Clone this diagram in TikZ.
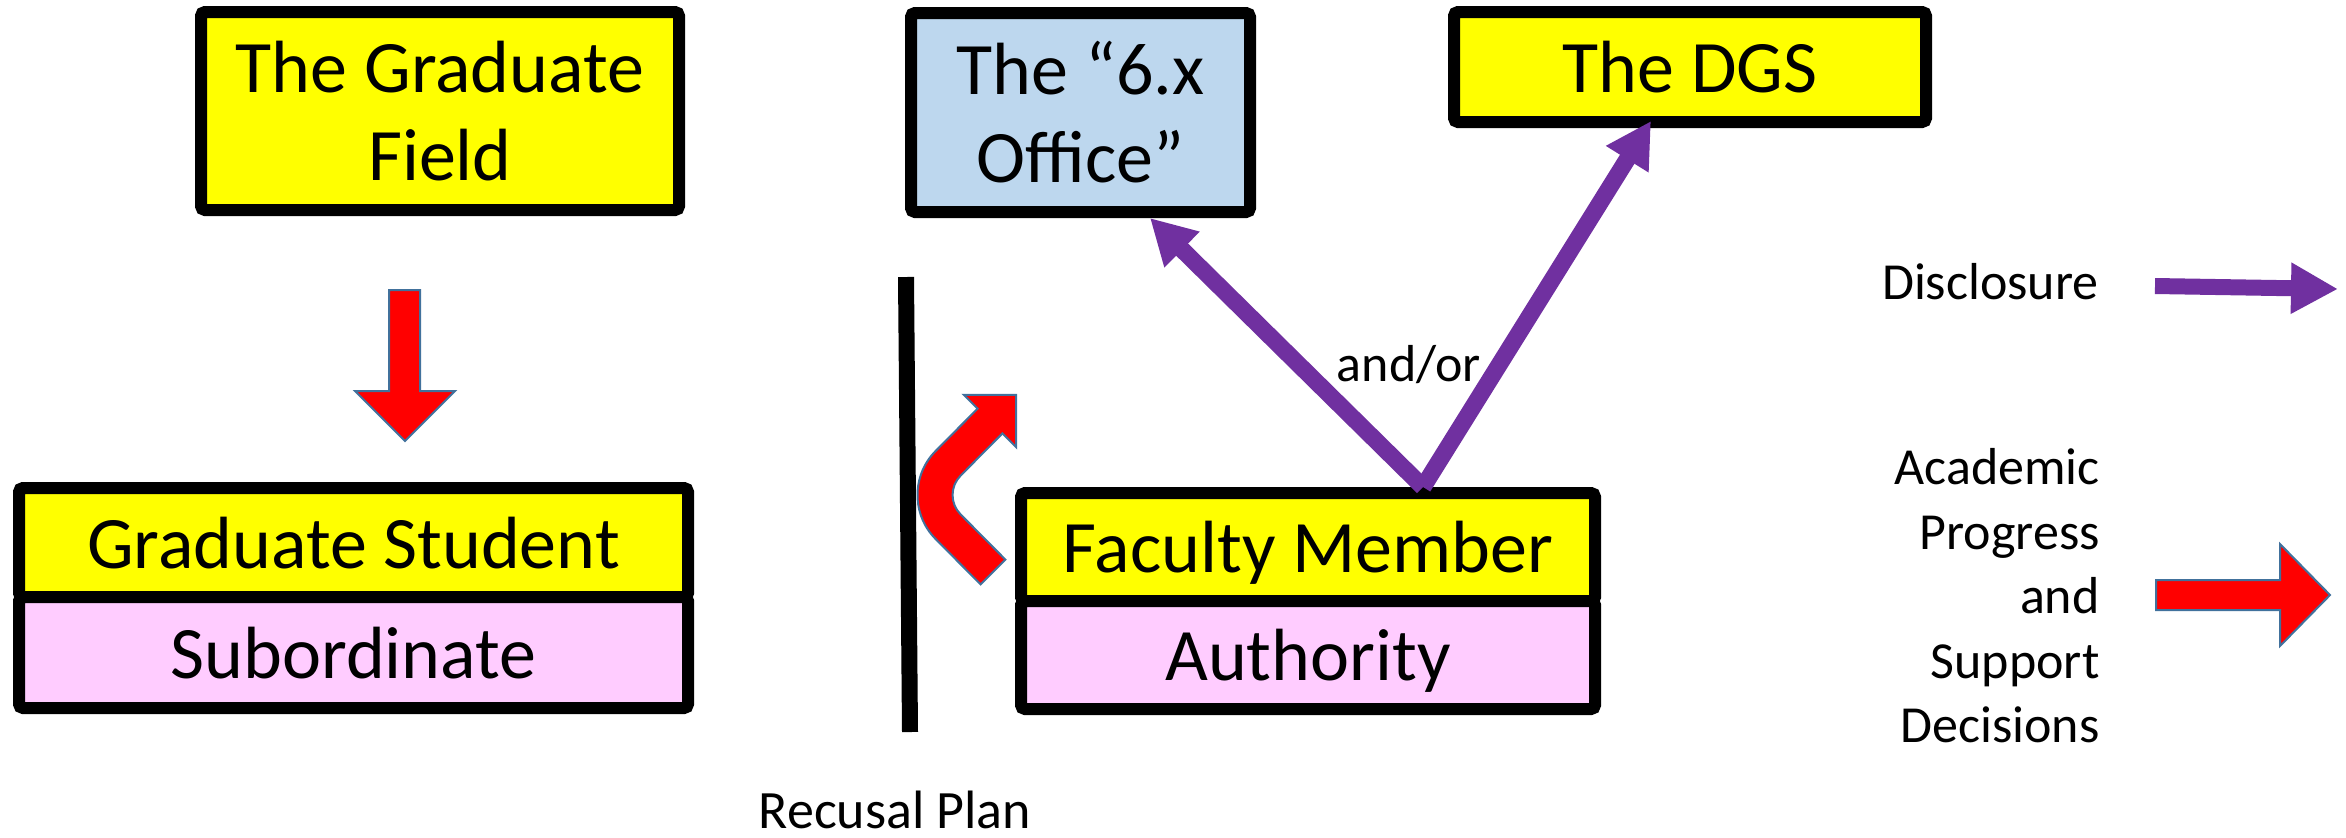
\documentclass[tikz,border=0pt]{standalone}
\usepackage{fontspec}
\setmainfont{Carlito}
\usetikzlibrary{arrows.meta}
\definecolor{boxyellow}{HTML}{FFFF00}
\definecolor{boxblue}{HTML}{BDD7EE}
\definecolor{boxpink}{HTML}{FFCCFF}
\definecolor{discpurple}{HTML}{7030A0}
\definecolor{progred}{HTML}{FF0000}
\definecolor{shapeedge}{HTML}{41719C}
\begin{document}
\begin{tikzpicture}[x=0.5pt,y=-0.5pt,
  box/.style={draw=black, line width=6pt, rounded corners=2pt, inner sep=0pt, align=center,
    font=\fontsize{37}{44}\selectfont},
  single/.style={text depth=0pt},
  smalltext/.style={inner sep=0pt, font=\fontsize{26}{32.25}\selectfont},
  parrow/.style={draw=discpurple, line width=8.5pt, -{Triangle[length=22.5pt,width=23.5pt]}},
  redshape/.style={fill=progred, draw=shapeedge, line width=1pt, line join=miter},
  wall/.style={draw=black, line width=8pt}
]
\useasboundingbox (0,0) rectangle (2346,837);

% boxes
\node[box, fill=boxyellow, minimum width=239pt, minimum height=99pt] (field) at (440,111) {The Graduate\\Field};
\node[box, fill=boxblue, minimum width=169.5pt, minimum height=99.5pt] (office) at (1080.5,112.5) {The “6.x\\Office”};
\node[box, single, fill=boxyellow, minimum width=236pt, minimum height=55pt] (dgs) at (1690,67) {The DGS};
\node[box, single, fill=boxyellow, minimum width=334.5pt, minimum height=54.5pt] (student) at (353.5,542.5) {Graduate Student};
\node[box, single, fill=boxpink, minimum width=334.5pt, minimum height=55.5pt] (sub) at (353.5,652.5) {Subordinate};
\node[box, single, fill=boxyellow, minimum width=287pt, minimum height=54pt] (faculty) at (1308,547) {Faculty Member};
\node[box, single, fill=boxpink, minimum width=287pt, minimum height=54pt] (authority) at (1308,655) {Authority};

% texts
\node[smalltext, anchor=base] (andor) at (1409,381) {and/or};
\node[inner sep=0pt, font=\fontsize{27}{32}\selectfont, anchor=base] (recusal) at (895,828) {Recusal Plan};
\node[smalltext, anchor=base east] (disc) at (2099,299) {Disclosure};
\node[smalltext, align=right, anchor=north east] (acad) at (2100,448) {Academic\\Progress\\and\\Support\\Decisions};

% recusal wall
\coordinate (wtop) at (906,277);
\coordinate (wbot) at (910,732);
\draw[wall] (wtop) -- (wbot);

% red block arrow field -> student
\draw[redshape] (389,290) -- (420,290) -- (420,391) -- (455,391) -- (405,441) -- (355,391) -- (389,391) -- cycle;

% curved red arrow
\draw[redshape] (980.6,584.4) -- (935.8,539.2)
  .. controls (911.4,514.8) and (911.4,475.2) .. (935.8,450.8)
  -- (977.6,408.6) -- (963.8,394.8) -- (1016.2,394.8) -- (1016.2,447.2) -- (1002.4,433.4)
  -- (960.6,475.6) .. controls (949.9,486.3) and (949.9,503.7) .. (960.6,514.4)
  -- (1005.4,559.6) -- cycle;

% disclosure arrows
\coordinate (v) at (1423,487);
\draw[parrow] (v) -- ([xshift=34.75pt]office.south);
\draw[parrow] (v) -- ([xshift=-19.5pt,yshift=3.5pt]dgs.south);

% legend
\coordinate (lp1) at (2155,286);
\coordinate (lp2) at (2338,289);
\draw[parrow, line width=8pt, -{Triangle[length=23.5pt,width=24pt]}] (lp1) -- (lp2);
\draw[redshape] (2156,580) -- (2280,580) -- (2280,544) -- (2330,595) -- (2280,646) -- (2280,610) -- (2156,610) -- cycle;
\end{tikzpicture}
\end{document}
